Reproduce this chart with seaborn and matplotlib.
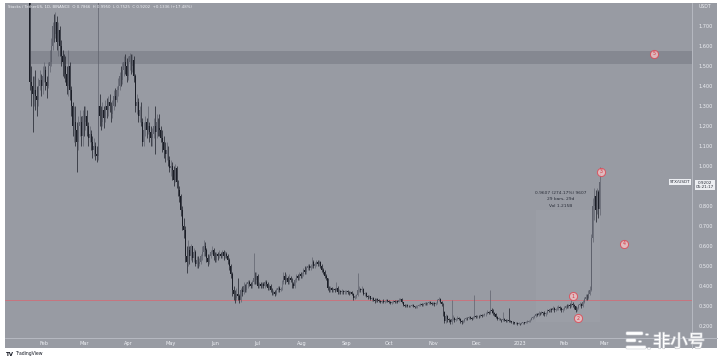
import numpy as np
import pandas as pd
import matplotlib
matplotlib.use("Agg")
import matplotlib.pyplot as plt
import seaborn as sns
from matplotlib.patches import Rectangle, FancyBboxPatch
import matplotlib.patheffects as pe

sns.set_style("white")
plt.rcParams['font.family'] = ['DejaVu Sans', 'Noto Sans CJK SC']

# ---------------- data (daily STX/USDT candles) -------------
start_date = "2022-01-04"
first_open = 2.22

close = [
    # Jan 4-31 2022
    2.25, 2.30, 2.15, 2.05, 2.00, 2.05, 2.10, 2.20, 2.25, 2.15, 2.10, 2.05, 2.10, 2.00, 1.98, 1.95, 1.92,
    1.90, 1.42, 1.40, 1.36, 1.38, 1.35, 1.33, 1.40, 1.43, 1.40, 1.45,
    # Feb
    1.48, 1.42, 1.40, 1.50, 1.52, 1.60, 1.70, 1.66, 1.72, 1.62, 1.68, 1.60, 1.55, 1.52, 1.50,
    1.46, 1.40, 1.50, 1.38, 1.30, 1.20, 1.22, 1.18, 1.12, 1.20, 1.22, 1.15, 1.25,
    # Mar
    1.22, 1.25, 1.20, 1.14, 1.16, 1.12, 1.08, 1.10, 1.06, 1.05, 1.30, 1.25, 1.22, 1.28, 1.24,
    1.30, 1.28, 1.32, 1.30, 1.26, 1.30, 1.35, 1.33, 1.38, 1.40, 1.45, 1.43, 1.48, 1.52, 1.50, 1.45,
    # Apr
    1.52, 1.55, 1.50, 1.53, 1.45, 1.30, 1.32, 1.25, 1.28, 1.22, 1.12, 1.18, 1.22, 1.18, 1.20,
    1.17, 1.14, 1.16, 1.20, 1.17, 1.22, 1.19, 1.18, 1.14, 1.12, 1.08, 1.06, 1.08, 1.03, 0.99,
    # May
    1.00, 0.98, 0.93, 0.99, 0.92, 0.88, 0.85, 0.78, 0.70, 0.68, 0.55, 0.52, 0.58, 0.55, 0.60,
    0.54, 0.57, 0.51, 0.53, 0.51, 0.52, 0.55, 0.57, 0.60, 0.58, 0.54, 0.52, 0.55, 0.57, 0.58, 0.55,
    # Jun
    0.53, 0.56, 0.55, 0.56, 0.55, 0.57, 0.55, 0.56, 0.55, 0.53, 0.50, 0.46, 0.38, 0.36, 0.34,
    0.36, 0.35, 0.33, 0.38, 0.37, 0.40, 0.38, 0.41, 0.42, 0.41, 0.40, 0.42, 0.44, 0.43, 0.45,
    # Jul
    0.40, 0.41, 0.40, 0.41, 0.40, 0.42, 0.41, 0.39, 0.40, 0.38, 0.36, 0.37, 0.36, 0.38, 0.39,
    0.38, 0.385, 0.42, 0.45, 0.43, 0.44, 0.42, 0.44, 0.43, 0.41, 0.40, 0.43, 0.45, 0.44, 0.46, 0.45,
    # Aug
    0.46, 0.48, 0.47, 0.49, 0.50, 0.49, 0.50, 0.52, 0.50, 0.51, 0.52, 0.51, 0.52, 0.50, 0.48,
    0.47, 0.45, 0.44, 0.39, 0.38, 0.39, 0.38, 0.385, 0.38, 0.39, 0.37, 0.375, 0.37, 0.375, 0.37, 0.37,
    # Sep
    0.375, 0.37, 0.365, 0.37, 0.36, 0.34, 0.35, 0.355, 0.38, 0.385, 0.38, 0.385, 0.36, 0.365, 0.35,
    0.345, 0.35, 0.335, 0.34, 0.33, 0.325, 0.335, 0.33, 0.325, 0.32, 0.325, 0.32, 0.325, 0.33, 0.325,
    # Oct
    0.32, 0.315, 0.32, 0.325, 0.32, 0.325, 0.32, 0.33, 0.335, 0.32, 0.305, 0.30, 0.305, 0.30, 0.298,
    0.30, 0.305, 0.298, 0.295, 0.298, 0.30, 0.305, 0.31, 0.305, 0.31, 0.315, 0.31, 0.315, 0.32, 0.315, 0.31,
    # Nov
    0.315, 0.31, 0.315, 0.33, 0.335, 0.32, 0.31, 0.27, 0.225, 0.25, 0.235, 0.23, 0.22, 0.235, 0.24,
    0.23, 0.235, 0.24, 0.235, 0.225, 0.218, 0.225, 0.235, 0.24, 0.238, 0.245, 0.24, 0.236, 0.245, 0.25,
    # Dec
    0.245, 0.25, 0.248, 0.255, 0.25, 0.255, 0.258, 0.262, 0.27, 0.265, 0.28, 0.275, 0.265, 0.26, 0.245,
    0.235, 0.24, 0.232, 0.228, 0.235, 0.23, 0.226, 0.228, 0.225, 0.222, 0.22, 0.218, 0.214, 0.216, 0.212, 0.214,
    # Jan 2023
    0.212, 0.215, 0.218, 0.216, 0.22, 0.222, 0.226, 0.23, 0.238, 0.245, 0.25, 0.258, 0.255, 0.265, 0.262,
    0.268, 0.264, 0.258, 0.266, 0.28, 0.275, 0.285, 0.28, 0.29, 0.28, 0.285, 0.29, 0.295, 0.288, 0.278, 0.285,
    # Feb 2023
    0.29, 0.298, 0.295, 0.305, 0.30, 0.31, 0.305, 0.298, 0.28, 0.29, 0.305, 0.31, 0.30, 0.32, 0.335,
    0.345, 0.34, 0.36, 0.38, 0.64, 0.80, 0.85, 0.78, 0.87, 0.7866, 0.9202,
]

high = [
    2.32, 2.38, 2.32, 2.18, 2.08, 2.10, 2.15, 2.25, 2.32, 2.28, 2.18, 2.12, 2.15, 2.12, 2.05, 2.02, 1.99,
    2.00, 1.95, 1.50, 1.45, 1.45, 1.48, 1.40, 1.44, 1.48, 1.46, 1.50,
    1.52, 1.50, 1.45, 1.52, 1.58, 1.64, 1.72, 1.76, 1.77, 1.75, 1.72, 1.70, 1.63, 1.58, 1.56,
    1.55, 1.50, 1.58, 1.52, 1.40, 1.32, 1.30, 1.30, 1.22, 1.25, 1.28, 1.25, 1.28,
    1.30, 1.30, 1.28, 1.22, 1.20, 1.18, 1.15, 1.14, 1.12, 1.10, 1.95, 1.36, 1.30, 1.32, 1.30,
    1.33, 1.34, 1.35, 1.36, 1.32, 1.33, 1.38, 1.39, 1.40, 1.44, 1.47, 1.50, 1.52, 1.55, 1.56, 1.54,
    1.55, 1.565, 1.56, 1.56, 1.55, 1.46, 1.36, 1.34, 1.30, 1.32, 1.24, 1.22, 1.25, 1.24, 1.30,
    1.22, 1.20, 1.19, 1.24, 1.30, 1.26, 1.24, 1.26, 1.20, 1.18, 1.15, 1.12, 1.12, 1.10, 1.05,
    1.03, 1.02, 1.00, 1.01, 1.00, 0.93, 0.90, 0.86, 0.80, 0.74, 0.70, 0.60, 0.63, 0.60, 0.61,
    0.60, 0.59, 0.58, 0.55, 0.55, 0.54, 0.56, 0.60, 0.63, 0.62, 0.59, 0.56, 0.56, 0.58, 0.60, 0.59,
    0.57, 0.57, 0.57, 0.58, 0.57, 0.58, 0.58, 0.575, 0.57, 0.56, 0.54, 0.51, 0.47, 0.40, 0.38,
    0.39, 0.44, 0.36, 0.39, 0.40, 0.42, 0.41, 0.42, 0.43, 0.43, 0.42, 0.43, 0.565, 0.47, 0.47,
    0.46, 0.42, 0.42, 0.42, 0.42, 0.43, 0.43, 0.42, 0.41, 0.41, 0.39, 0.38, 0.38, 0.39, 0.40,
    0.40, 0.395, 0.43, 0.47, 0.47, 0.46, 0.45, 0.46, 0.45, 0.44, 0.42, 0.44, 0.46, 0.46, 0.47, 0.47,
    0.47, 0.49, 0.50, 0.50, 0.51, 0.51, 0.51, 0.545, 0.53, 0.52, 0.53, 0.53, 0.53, 0.525, 0.51,
    0.49, 0.48, 0.46, 0.44, 0.40, 0.40, 0.395, 0.39, 0.39, 0.42, 0.40, 0.385, 0.38, 0.385, 0.38, 0.38,
    0.38, 0.38, 0.375, 0.375, 0.375, 0.365, 0.355, 0.36, 0.465, 0.40, 0.39, 0.40, 0.39, 0.37, 0.37,
    0.355, 0.355, 0.35, 0.345, 0.345, 0.34, 0.34, 0.34, 0.335, 0.33, 0.33, 0.335, 0.33, 0.335, 0.335,
    0.33, 0.325, 0.325, 0.33, 0.33, 0.33, 0.33, 0.34, 0.34, 0.34, 0.32, 0.31, 0.31, 0.31, 0.305,
    0.305, 0.31, 0.308, 0.30, 0.305, 0.305, 0.31, 0.315, 0.315, 0.315, 0.32, 0.32, 0.32, 0.325, 0.325, 0.32,
    0.32, 0.32, 0.32, 0.335, 0.345, 0.34, 0.325, 0.315, 0.275, 0.26, 0.255, 0.24, 0.235, 0.33, 0.255,
    0.245, 0.24, 0.25, 0.245, 0.24, 0.23, 0.23, 0.24, 0.245, 0.245, 0.25, 0.25, 0.245, 0.25, 0.355,
    0.255, 0.255, 0.255, 0.26, 0.26, 0.26, 0.265, 0.268, 0.28, 0.275, 0.38, 0.29, 0.285, 0.27, 0.265,
    0.25, 0.245, 0.242, 0.236, 0.27, 0.238, 0.235, 0.233, 0.29, 0.23, 0.226, 0.224, 0.22, 0.22, 0.218, 0.218,
    0.216, 0.218, 0.222, 0.222, 0.225, 0.228, 0.232, 0.236, 0.245, 0.25, 0.255, 0.265, 0.265, 0.275, 0.27,
    0.275, 0.272, 0.275, 0.27, 0.285, 0.285, 0.29, 0.29, 0.30, 0.295, 0.292, 0.30, 0.305, 0.30, 0.295, 0.29,
    0.30, 0.305, 0.31, 0.31, 0.315, 0.33, 0.32, 0.31, 0.30, 0.295, 0.31, 0.32, 0.315, 0.33, 0.345,
    0.36, 0.36, 0.38, 0.40, 0.66, 0.84, 0.89, 0.88, 0.89, 0.88, 0.995,
]

low = [
    2.18, 2.20, 2.10, 1.98, 1.93, 1.96, 2.02, 2.08, 2.16, 2.10, 2.04, 2.00, 2.02, 1.96, 1.93, 1.90, 1.86,
    1.84, 1.38, 1.30, 1.17, 1.30, 1.28, 1.25, 1.30, 1.38, 1.35, 1.36,
    1.42, 1.38, 1.34, 1.39, 1.47, 1.50, 1.58, 1.62, 1.64, 1.58, 1.55, 1.55, 1.50, 1.45, 1.44,
    1.42, 1.36, 1.35, 1.33, 1.25, 1.15, 1.12, 1.10, 0.97, 1.08, 1.15, 1.10, 1.10,
    1.15, 1.18, 1.15, 1.10, 1.12, 1.08, 1.04, 1.05, 1.03, 1.02, 1.03, 1.20, 1.18, 1.20, 1.19,
    1.22, 1.24, 1.25, 1.27, 1.22, 1.24, 1.28, 1.30, 1.32, 1.35, 1.38, 1.40, 1.41, 1.45, 1.46, 1.42,
    1.43, 1.48, 1.46, 1.47, 1.42, 1.27, 1.26, 1.22, 1.22, 1.20, 1.10, 1.10, 1.15, 1.14, 1.16,
    1.12, 1.10, 1.10, 1.14, 1.06, 1.14, 1.15, 1.15, 1.12, 1.07, 1.04, 1.02, 1.03, 1.00, 0.97,
    0.95, 0.93, 0.90, 0.92, 0.89, 0.85, 0.82, 0.75, 0.68, 0.64, 0.52, 0.465, 0.50, 0.51, 0.53,
    0.52, 0.52, 0.50, 0.49, 0.49, 0.50, 0.51, 0.53, 0.55, 0.55, 0.52, 0.50, 0.51, 0.54, 0.56, 0.53,
    0.52, 0.52, 0.53, 0.54, 0.54, 0.54, 0.53, 0.54, 0.54, 0.51, 0.48, 0.44, 0.35, 0.33, 0.315,
    0.33, 0.33, 0.315, 0.32, 0.35, 0.36, 0.37, 0.37, 0.39, 0.40, 0.39, 0.39, 0.41, 0.41, 0.41,
    0.39, 0.39, 0.39, 0.39, 0.39, 0.39, 0.40, 0.38, 0.38, 0.37, 0.355, 0.355, 0.35, 0.355, 0.37,
    0.37, 0.375, 0.38, 0.41, 0.41, 0.42, 0.41, 0.41, 0.42, 0.39, 0.39, 0.39, 0.42, 0.43, 0.43, 0.44,
    0.44, 0.45, 0.46, 0.46, 0.48, 0.48, 0.48, 0.49, 0.49, 0.49, 0.50, 0.50, 0.50, 0.49, 0.47,
    0.46, 0.44, 0.43, 0.38, 0.37, 0.37, 0.37, 0.37, 0.37, 0.375, 0.36, 0.36, 0.36, 0.36, 0.36, 0.36,
    0.36, 0.36, 0.355, 0.36, 0.355, 0.33, 0.335, 0.34, 0.35, 0.37, 0.37, 0.37, 0.355, 0.35, 0.345,
    0.335, 0.34, 0.33, 0.325, 0.325, 0.315, 0.32, 0.32, 0.32, 0.315, 0.315, 0.315, 0.315, 0.32, 0.32,
    0.315, 0.31, 0.31, 0.315, 0.315, 0.315, 0.315, 0.32, 0.325, 0.315, 0.30, 0.295, 0.295, 0.295, 0.293,
    0.295, 0.298, 0.293, 0.29, 0.29, 0.29, 0.298, 0.30, 0.30, 0.30, 0.305, 0.305, 0.305, 0.31, 0.31, 0.305,
    0.305, 0.30, 0.305, 0.31, 0.325, 0.315, 0.30, 0.25, 0.215, 0.215, 0.22, 0.22, 0.21, 0.21, 0.23,
    0.22, 0.225, 0.23, 0.228, 0.215, 0.21, 0.215, 0.22, 0.23, 0.23, 0.235, 0.235, 0.23, 0.235, 0.24,
    0.24, 0.24, 0.24, 0.245, 0.245, 0.248, 0.25, 0.252, 0.26, 0.258, 0.262, 0.265, 0.255, 0.25, 0.238,
    0.228, 0.23, 0.228, 0.222, 0.225, 0.225, 0.22, 0.222, 0.22, 0.218, 0.215, 0.212, 0.208, 0.21, 0.207, 0.208,
    0.207, 0.208, 0.21, 0.212, 0.213, 0.215, 0.218, 0.222, 0.228, 0.235, 0.24, 0.245, 0.248, 0.25, 0.255,
    0.258, 0.256, 0.25, 0.252, 0.262, 0.268, 0.27, 0.272, 0.278, 0.272, 0.275, 0.28, 0.282, 0.28, 0.27, 0.272,
    0.278, 0.285, 0.288, 0.292, 0.29, 0.295, 0.295, 0.285, 0.27, 0.275, 0.285, 0.30, 0.29, 0.295, 0.315,
    0.33, 0.33, 0.335, 0.355, 0.375, 0.62, 0.73, 0.72, 0.76, 0.74, 0.7525,
]

# 0.900 sits under the last-price label, so it is not shown
y_ticks = [0.2, 0.3, 0.4, 0.5, 0.6, 0.7, 0.8, 1.0, 1.1, 1.2, 1.3, 1.4, 1.5, 1.6, 1.7]
month_starts = ["2022-02-01", "2022-03-01", "2022-04-01", "2022-05-01", "2022-06-01", "2022-07-01",
                "2022-08-01", "2022-09-01", "2022-10-01", "2022-11-01", "2022-12-01", "2023-01-01",
                "2023-02-01", "2023-03-01"]
month_labels = ["Feb", "Mar", "Apr", "May", "Jun", "Jul", "Aug", "Sep", "Oct", "Nov", "Dec", "2023", "Feb", "Mar"]

resistance_lo, resistance_hi = 1.51, 1.575
resistance_start = "2022-01-23"
support_level = 0.33

marker_dates = ["2023-02-07", "2023-02-11", "2023-02-27", "2023-03-15", "2023-04-05"]
marker_prices = [0.35, 0.24, 0.97, 0.61, 1.56]
marker_labels = ["1", "2", "3", "4", "5"]

measure_start, measure_end = "2023-01-12", "2023-02-26"
measure_lo, measure_hi = 0.22, 0.78
last_price = 0.9202

header = ("Stacks / TetherUS, 1D, BINANCE  O 0.7866  H 0.9950  L 0.7525  "
          "C 0.9202  +0.1336 (+17.48%)")

# ---------------- figure ----------------
W, H = 719, 361
BG = "#989ba3"
LIGHT = "#eef0f4"
fig = plt.figure(figsize=(W / 100, H / 100), dpi=100, facecolor="white")

def fx(px):
    return px / W

def fy(py):
    return 1 - py / H

# gray chart panel (incl. price and time scales), drawn beneath the axes
fig.patches.append(Rectangle((fx(5), fy(348)), fx(712), 345 / H, transform=fig.transFigure,
                             facecolor=BG, edgecolor="none", zorder=-5))

ax = fig.add_axes([fx(5), fy(337), fx(687), 334 / H])
ax.set_facecolor(BG)
for s in ax.spines.values():
    s.set_visible(False)

origin = pd.Timestamp("2022-01-01")
dates = pd.date_range(start_date, periods=len(close), freq="D")
x = np.asarray((dates - origin).days, dtype=float)
c = np.asarray(close)
o = np.concatenate([[first_open], c[:-1]])
hi = np.maximum(np.asarray(high), np.maximum(o, c))
lo = np.minimum(np.asarray(low), np.minimum(o, c))
up = c >= o
cols = np.where(up, "#5f626d", "#1b1e27")

df = pd.DataFrame({"x": x, "o": o, "c": c, "h": hi, "l": lo, "up": up})

ax.vlines(df["x"], df["l"], df["h"], colors=cols, linewidth=0.5, zorder=3)
body_lo = np.minimum(o, c)
body_h = np.maximum(np.abs(c - o), 0.003)
ax.bar(df["x"], body_h, bottom=body_lo, width=0.62, color=cols, linewidth=0, zorder=4)

# resistance band & support line
rs = (pd.Timestamp(resistance_start) - origin).days
ax.add_patch(Rectangle((rs, resistance_lo), 600, resistance_hi - resistance_lo,
                       facecolor="#7f828b", edgecolor="none", alpha=0.75, zorder=1))
ax.axhline(support_level, color="#cf6e78", linewidth=0.6, zorder=2)

# measurement box
ms = (pd.Timestamp(measure_start) - origin).days
me = (pd.Timestamp(measure_end) - origin).days
ax.add_patch(Rectangle((ms, measure_lo), me - ms, measure_hi - measure_lo,
                       facecolor="white", edgecolor="none", alpha=0.035, zorder=1))
tx = (ms + me) / 2 - 5
for txt, yy in [("0.9607 (274.17%) 9607", 0.865), ("29 bars, 29d", 0.835), ("Vol 1.215B", 0.80)]:
    ax.text(tx, yy, txt, fontsize=3.2, color="#2a2e39", ha="center", va="center", zorder=6)

# red circled markers
mx = [(pd.Timestamp(d) - origin).days for d in marker_dates]
mdf = pd.DataFrame({"x": mx, "y": marker_prices})
sns.scatterplot(data=mdf, x="x", y="y", ax=ax, s=34, facecolor="#f3c3c6", edgecolor="#e0424f",
                linewidth=0.7, alpha=0.8, zorder=8, legend=False)
for xx, yy, lab in zip(mx, marker_prices, marker_labels):
    ax.text(xx, yy, lab, fontsize=3.4, color="#d9303e", ha="center", va="center", zorder=9)

# axes ranges / ticks
ax.set_xlim(3.6, 485.7)
ax.set_ylim(0.145, 1.815)
ax.set_xlabel("")
ax.set_ylabel("")
xt = [(pd.Timestamp(d) - origin).days for d in month_starts]
ax.set_xticks(xt)
ax.set_xticklabels(month_labels)
ax.yaxis.tick_right()
ax.set_yticks(y_ticks)
ax.set_yticklabels([f"{v:.3f}" for v in y_ticks])
ax.tick_params(axis="x", length=0, pad=3.2, labelsize=3.6, labelcolor=LIGHT)
ax.tick_params(axis="y", length=0, pad=4.5, labelsize=3.6, labelcolor=LIGHT)
ax.grid(False)

# scale separators
fig.add_artist(plt.Line2D([fx(692), fx(692)], [fy(348), fy(3)], transform=fig.transFigure,
                          color="#b6b9c1", linewidth=0.7))
fig.add_artist(plt.Line2D([fx(5), fx(717)], [fy(337.5), fy(337.5)], transform=fig.transFigure,
                          color="#b6b9c1", linewidth=0.7))

# header / labels
fig.text(fx(8), fy(7), header, fontsize=2.8, color=LIGHT, ha="left", va="center")
fig.text(fx(705), fy(6), "USDT", fontsize=3.3, color=LIGHT, ha="center", va="center")
fig.text(fx(680), fy(182), "STX/USDT", fontsize=3.0, color="#2a2e39", ha="center", va="center",
         bbox=dict(boxstyle="square,pad=0.25", fc="#eceef2", ec="none"), zorder=10)
fig.text(fx(705), fy(185), f"{last_price:.4f}\n05:21:17", fontsize=3.0, color="#2a2e39",
         ha="center", va="center", linespacing=1.1,
         bbox=dict(boxstyle="square,pad=0.3", fc="#eceef2", ec="none"), zorder=10)

# TradingView logo
fig.text(fx(6), fy(354), "TV", fontsize=4.0, color="#131722", fontweight="bold", ha="left", va="center")
fig.text(fx(15), fy(354), "TradingView", fontsize=3.3, color="#131722", ha="left", va="center")

# watermark 非小号
for (bx, by, bw) in [(626, 333, 17), (626, 340, 10), (626, 347, 20)]:
    fig.patches.append(FancyBboxPatch((fx(bx), fy(by + 2)), fx(bw), 3.2 / H,
                                      boxstyle="round,pad=0,rounding_size=0.002",
                                      transform=fig.transFigure, facecolor="white",
                                      edgecolor="#c9cbd1", linewidth=0.4, zorder=11))
for (dx, dy) in [(647, 334.5), (640, 341.5), (649, 348.5)]:
    fig.patches.append(plt.Circle((fx(dx), fy(dy)), 1.8 / W, transform=fig.transFigure,
                                  facecolor="white", edgecolor="#c9cbd1", linewidth=0.4, zorder=11))
fig.text(fx(679), fy(342), "非小号", fontsize=12.5, color="white", ha="center", va="center",
         family=["Noto Sans CJK SC", "DejaVu Sans"], zorder=12,
         path_effects=[pe.withStroke(linewidth=1.0, foreground="#c4c6cc")])

fig.savefig("out.png", dpi=100, facecolor="white")
